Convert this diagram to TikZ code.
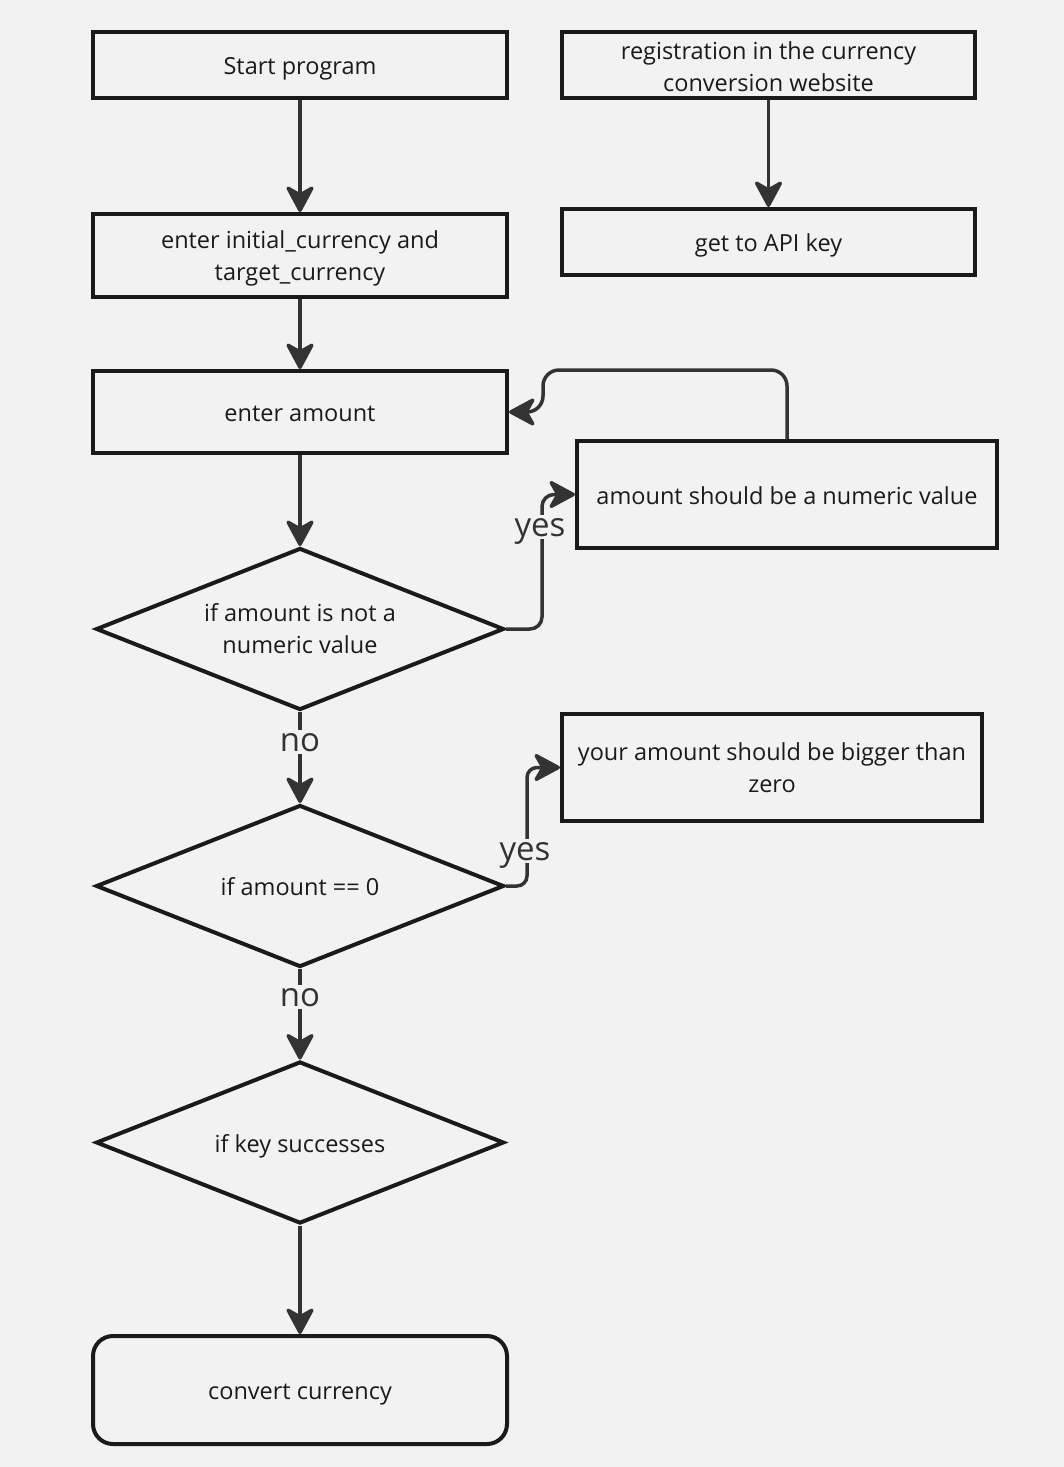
\documentclass[tikz,border=0pt]{standalone}
\usepackage{fontspec}
\setmainfont{Open Sans}
\usetikzlibrary{shapes.geometric,arrows.meta}
\definecolor{bg}{HTML}{F2F2F2}
\definecolor{ink}{HTML}{1A1A1A}
\definecolor{wire}{HTML}{333333}
% two-line label, lowered by #1 without changing the node size
\newcommand{\droptext}[2]{\raisebox{-#1}[\height][\depth]{\begin{tabular}{@{}c@{}}#2\end{tabular}}}
\begin{document}
\begin{tikzpicture}[x=1pt,y=-1pt,
  box/.style={draw=ink, line width=4pt, rectangle, minimum width=414pt, minimum height=66pt,
    inner sep=0pt, align=center, text=ink, font=\fontsize{23.5}{32}\selectfont},
  oneline/.style={text height=19pt, text depth=0pt},
  decide/.style={draw=ink, line width=4pt, diamond, shape aspect=2.52, minimum width=408pt,
    minimum height=162pt, inner sep=0pt, align=center, text=ink, font=\fontsize{23.5}{32}\selectfont},
  conn/.style={draw=wire, line width=3.5pt, -{Stealth[length=30pt,width=32pt,inset=9pt,round]}},
  tag/.style={fill=bg, text=wire, inner sep=3pt, text height=18pt, text depth=0pt,
    font=\fontsize{33}{36}\selectfont}]
  % canvas
  \fill[bg] (0,0) rectangle (1064,1467);
  % left column
  \node[box, oneline] (start) at (300,65) {Start program};
  \node[box, minimum height=83pt] (pair) at (300,255.5) {\droptext{3pt}{enter initial\_currency and\\target\_currency}};
  \node[box, oneline, minimum height=82pt] (amount) at (300,412) {enter amount};
  \node[decide] (numq) at (300,629) {if amount is not a\\numeric value};
  \node[decide, oneline] (zeroq) at (300,886) {if amount == 0};
  \node[decide, oneline] (keyq) at (300,1142.5) {if key successes};
  \node[box, oneline, minimum height=108pt, rounded corners=20pt] (convert) at (300,1390) {convert currency};
  % right column
  \node[box, minimum width=413pt] (reg) at (768.5,65) {\droptext{4.5pt}{registration in the currency\\conversion website}};
  \node[box, oneline, minimum width=413pt] (apikey) at (768.5,242) {get to API key};
  \node[box, oneline, minimum width=420pt, minimum height=107pt] (numerr) at (787,494.5) {amount should be a numeric value};
  \node[box, minimum width=420pt, minimum height=107pt] (zeroerr) at (772,767.5) {\droptext{3pt}{your amount should be bigger than\\zero}};
  % main flow
  \draw[conn] (start) -- (pair);
  \draw[conn] (reg) -- (apikey);
  \draw[conn] (pair) -- (amount);
  \draw[conn] (amount) -- (numq);
  \draw[conn] (numq.south) -- (zeroq.north);
  \draw[conn] (zeroq.south) -- (keyq.north);
  \draw[conn] (keyq.south) -- (convert.north);
  % branches
  \draw[conn, rounded corners=12pt] (numq.east) -- ++(36,0) |- (numerr.west);
  \draw[conn, rounded corners=16pt] (numerr.north) |- (543,370) |- (amount.east);
  \draw[conn, rounded corners=10pt] (zeroq.east) -- ++(21,0) |- (zeroerr.west);
  % branch labels
  \node[tag] (no1) at (300,742) {no};
  \node[tag] (no2) at (300,997) {no};
  \node[tag] (yes1) at (540,527) {yes};
  \node[tag] (yes2) at (525,851) {yes};
\end{tikzpicture}
\end{document}
